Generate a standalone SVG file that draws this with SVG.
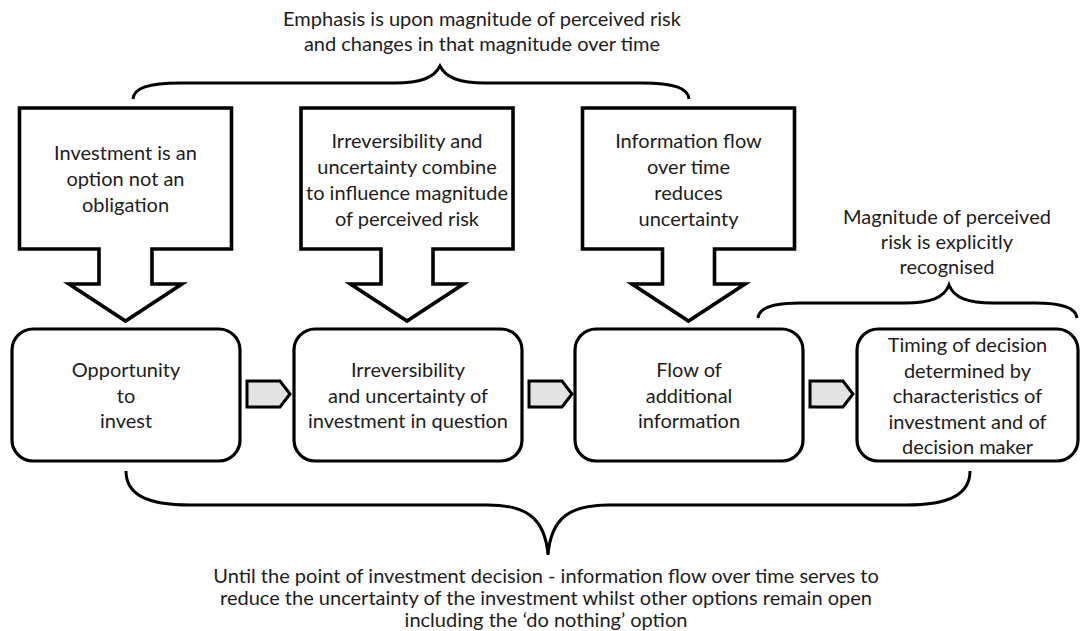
<svg xmlns="http://www.w3.org/2000/svg" width="1081" height="631" viewBox="0 0 1081 631">
  <style>
    text { font-family: "Lato", "Open Sans", sans-serif; font-size: 20px; fill: #1c1c1c; text-anchor: middle; }
    .block { fill: #ffffff; stroke: #000000; stroke-width: 3.6; stroke-linejoin: miter; }
    .stage { fill: #ffffff; stroke: #000000; stroke-width: 3.2; }
    .step { fill: #e3e3e3; stroke: #000000; stroke-width: 3; stroke-linejoin: miter; }
    .brace { fill: none; stroke: #000000; stroke-width: 3; stroke-linecap: butt; }
  </style>

  <!-- Braces with their captions -->
  <g id="top-brace">
    <text x="482" y="26">Emphasis is upon magnitude of perceived risk</text>
    <text x="482" y="51">and changes in that magnitude over time</text>
    <path class="brace" d="M133,99 C134,88 148,83 180,83 L395,83 C420,83 434,78 440,66 C446,78 460,83 485,83 L642,83 C674,83 688,88 689,99"/>
  </g>

  <g id="right-brace">
    <text x="947" y="224">Magnitude of perceived</text>
    <text x="947" y="249">risk is explicitly</text>
    <text x="947" y="274">recognised</text>
    <path class="brace" d="M758,318 C759,308 772,303 800,303 L905,303 C930,303 944,298 949,285 C954,298 968,303 993,303 L1035,303 C1063,303 1076,308 1077,318"/>
  </g>

  <g id="bottom-brace">
    <path class="brace" d="M126,471 C126,494 146,505 190,505 L488,505 C525,505 545,517 548,555 C551,517 571,505 608,505 L906,505 C950,505 970,494 970,471"/>
    <text x="546" y="583">Until the point of investment decision -  information flow over time serves to</text>
    <text x="546" y="605">reduce the uncertainty of the investment whilst other options remain open</text>
    <text x="546" y="627">including the ‘do nothing’ option</text>
  </g>

  <!-- Influences: boxed down-arrows -->
  <g id="influence-option">
    <path class="block" d="M19.5,108 H231.5 V249 H152 V284 H182 L125.5,321 L69,284 H99 V249 H19.5 Z"/>
    <text x="125.5" y="160">Investment is an</text>
    <text x="125.5" y="186">option not an</text>
    <text x="125.5" y="212">obligation</text>
  </g>

  <g id="influence-irreversibility">
    <path class="block" d="M301,108 H513 V249 H433 V284 H463.5 L407,321 L350.5,284 H381 V249 H301 Z"/>
    <text x="407" y="148">Irreversibility and</text>
    <text x="407" y="174">uncertainty combine</text>
    <text x="407" y="200">to influence magnitude</text>
    <text x="407" y="226">of perceived risk</text>
  </g>

  <g id="influence-information">
    <path class="block" d="M582.5,108 H794.5 V249 H714.5 V284 H745 L688.5,321 L632,284 H662.5 V249 H582.5 Z"/>
    <text x="688.5" y="148">Information flow</text>
    <text x="688.5" y="174">over time</text>
    <text x="688.5" y="200">reduces</text>
    <text x="688.5" y="226">uncertainty</text>
  </g>

  <!-- Process stages -->
  <g id="stage-opportunity">
    <rect class="stage" x="12" y="329" width="228" height="132" rx="21"/>
    <text x="126" y="377">Opportunity</text>
    <text x="126" y="402.5">to</text>
    <text x="126" y="428">invest</text>
  </g>

  <g id="stage-irreversibility">
    <rect class="stage" x="294" y="329" width="228" height="132" rx="21"/>
    <text x="408" y="377">Irreversibility</text>
    <text x="408" y="402.5">and uncertainty of</text>
    <text x="408" y="428">investment in question</text>
  </g>

  <g id="stage-information">
    <rect class="stage" x="575" y="329" width="228" height="132" rx="21"/>
    <text x="689" y="377">Flow of</text>
    <text x="689" y="402.5">additional</text>
    <text x="689" y="428">information</text>
  </g>

  <g id="stage-timing">
    <rect class="stage" x="857" y="329" width="221" height="132" rx="21"/>
    <text x="967.5" y="352">Timing of decision</text>
    <text x="967.5" y="377.5">determined by</text>
    <text x="967.5" y="403">characteristics of</text>
    <text x="967.5" y="428.5">investment and of</text>
    <text x="967.5" y="454">decision maker</text>
  </g>

  <!-- Step connectors between stages -->
  <g id="connectors">
    <path class="step" d="M247,381 H280 L290,394 L280,407 H247 Z"/>
    <path class="step" d="M529,381 H562 L572,394 L562,407 H529 Z"/>
    <path class="step" d="M810,381 H843 L853,394 L843,407 H810 Z"/>
  </g>
</svg>
